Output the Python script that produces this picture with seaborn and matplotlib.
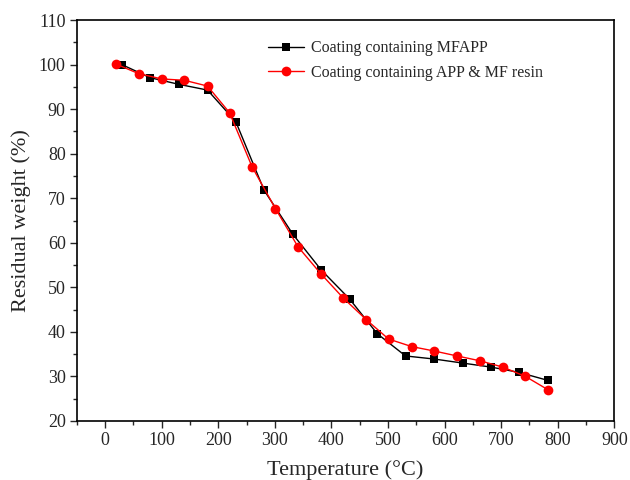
import matplotlib
matplotlib.use("Agg")
import matplotlib.pyplot as plt
from matplotlib.ticker import MultipleLocator
import seaborn as sns
import pandas as pd

temp_mfapp = [30, 79, 130, 181, 231, 281, 332, 382, 432, 481, 531, 582, 632, 682, 732, 783]
wt_mfapp = [100.0, 97.1, 95.6, 94.3, 87.2, 71.8, 61.9, 53.9, 47.4, 39.6, 34.6, 33.9, 33.0, 32.1, 30.9, 29.1]

temp_app = [20, 59, 100, 140, 181, 220, 260, 301, 341, 381, 421, 462, 501, 542, 582, 622, 663, 703, 743, 783]
wt_app = [100.1, 98.0, 96.8, 96.5, 95.2, 89.2, 77.0, 67.7, 59.1, 53.1, 47.6, 42.7, 38.4, 36.7, 35.7, 34.6, 33.5, 32.1, 30.0, 27.0]

label_mfapp = "Coating containing MFAPP"
label_app = "Coating containing APP & MF resin"

sns.set_style("white")
plt.rcParams["font.family"] = ["Liberation Serif", "DejaVu Serif"]

fig = plt.figure(figsize=(6.3, 4.8), dpi=100)
ax = fig.add_axes([0.122, 0.123, 0.853, 0.835])

df1 = pd.DataFrame({"T": temp_mfapp, "W": wt_mfapp})
df2 = pd.DataFrame({"T": temp_app, "W": wt_app})

sns.lineplot(data=df1, x="T", y="W", ax=ax, color="black", lw=1.0,
             marker="s", markersize=6, markeredgewidth=0, label=label_mfapp,
             sort=False)
sns.lineplot(data=df2, x="T", y="W", ax=ax, color="#ff0000", lw=1.0,
             marker="o", markersize=7, markeredgewidth=0, label=label_app,
             sort=False)

ax.set_xlim(-50, 900)
ax.set_ylim(20, 110)
ax.xaxis.set_major_locator(MultipleLocator(100))
ax.xaxis.set_minor_locator(MultipleLocator(50))
ax.yaxis.set_major_locator(MultipleLocator(10))
ax.yaxis.set_minor_locator(MultipleLocator(5))
ax.set_xticks([0, 100, 200, 300, 400, 500, 600, 700, 800, 900])
ax.tick_params(axis="both", which="major", direction="out", length=5, width=1,
               labelsize=13, bottom=True, left=True, top=False, right=False, pad=3)
ax.tick_params(axis="both", which="minor", direction="out", length=3, width=1,
               bottom=True, left=True, top=False, right=False)
for s in ax.spines.values():
    s.set_color("black")
    s.set_linewidth(1.2)

ax.set_xlabel("Temperature (\u00b0C)", fontsize=16, labelpad=8)
ax.set_ylabel("Residual weight (%)", fontsize=16, labelpad=6)

ax.legend(loc="upper left", bbox_to_anchor=(0.355, 0.95), frameon=False,
          fontsize=11.5, handlelength=2.3, handletextpad=0.4, labelspacing=0.55,
          borderaxespad=0, borderpad=0)

fig.savefig("out.png", dpi=100)
